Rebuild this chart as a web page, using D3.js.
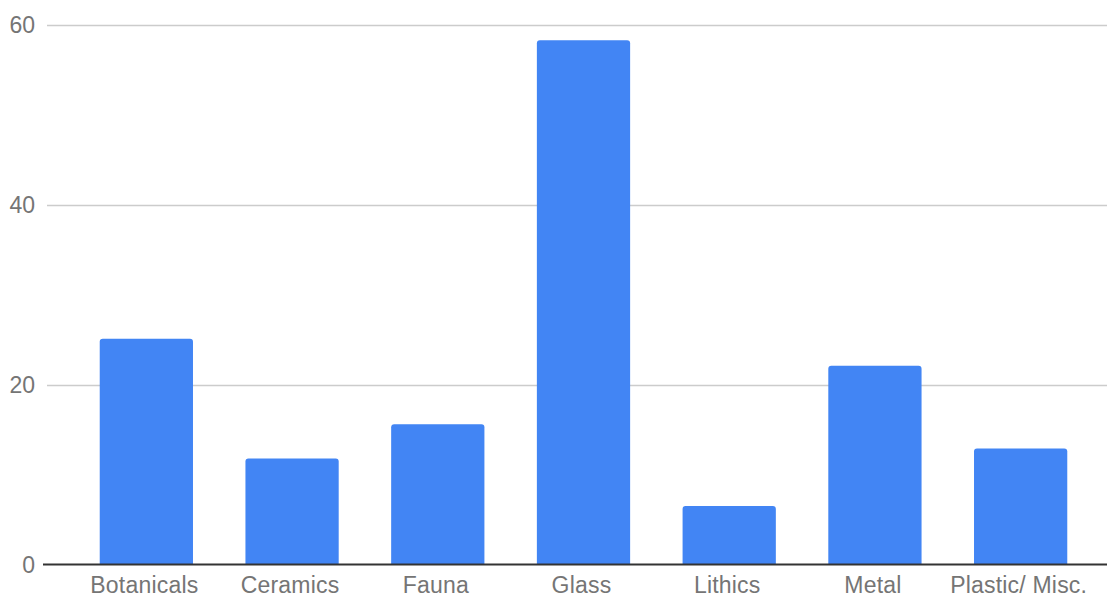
<!DOCTYPE html>
<html><head><meta charset="utf-8">
<script src="https://cdn.jsdelivr.net/npm/d3@7"></script>
<style>
html,body{margin:0;padding:0;background:#fff;}
svg{display:block;}
text{font-family:"Liberation Sans",Arial,sans-serif;fill:#757575;}
</style></head>
<body><svg id="chart" width="1107" height="599"></svg>
<script>
const categories = ["Botanicals","Ceramics","Fauna","Glass","Lithics","Metal","Plastic/ Misc."];
const values = [25.1, 11.8, 15.6, 58.3, 6.5, 22.1, 12.9];
const yTicks = [0, 20, 40, 60];

const svg = d3.select("#chart");
const x = d3.scaleBand().domain(categories).range([73.5, 1093.5]).paddingInner(0.36).paddingOuter(0.18);
const y = d3.scaleLinear().domain([0, 60]).range([564.5, 25]);

// gridlines
svg.append("g").selectAll("line").data(yTicks.filter(d => d !== 0)).join("line")
  .attr("x1", 47).attr("x2", 1107)
  .attr("y1", d => Math.round(y(d)) + 0.5).attr("y2", d => Math.round(y(d)) + 0.5)
  .attr("stroke", "#cccccc").attr("stroke-width", 1.5);

// y tick labels
svg.append("g").selectAll("text").data(yTicks).join("text")
  .attr("x", 35).attr("y", d => y(d)).attr("dy", "0.36em")
  .attr("text-anchor", "end").attr("font-size", 23)
  .text(d => d);

// bars
svg.append("g").selectAll("path").data(categories).join("path")
  .attr("fill", "#4285f4")
  .attr("d", (c, i) => {
    const x0 = x(c), w = x.bandwidth(), y0 = y(values[i]), y1 = y(0), r = 3;
    return `M${x0},${y1}V${y0 + r}Q${x0},${y0} ${x0 + r},${y0}H${x0 + w - r}Q${x0 + w},${y0} ${x0 + w},${y0 + r}V${y1}Z`;
  });

// baseline
svg.append("line").attr("x1", 43).attr("x2", 1107)
  .attr("y1", y(0)).attr("y2", y(0))
  .attr("stroke", "#333333").attr("stroke-width", 2);

// x labels
svg.append("g").selectAll("text").data(categories).join("text")
  .attr("x", c => x(c) + x.bandwidth() / 2 - 2).attr("y", 593)
  .attr("text-anchor", "middle").attr("font-size", 23).attr("letter-spacing", 0.2)
  .text(c => c);
</script></body></html>
